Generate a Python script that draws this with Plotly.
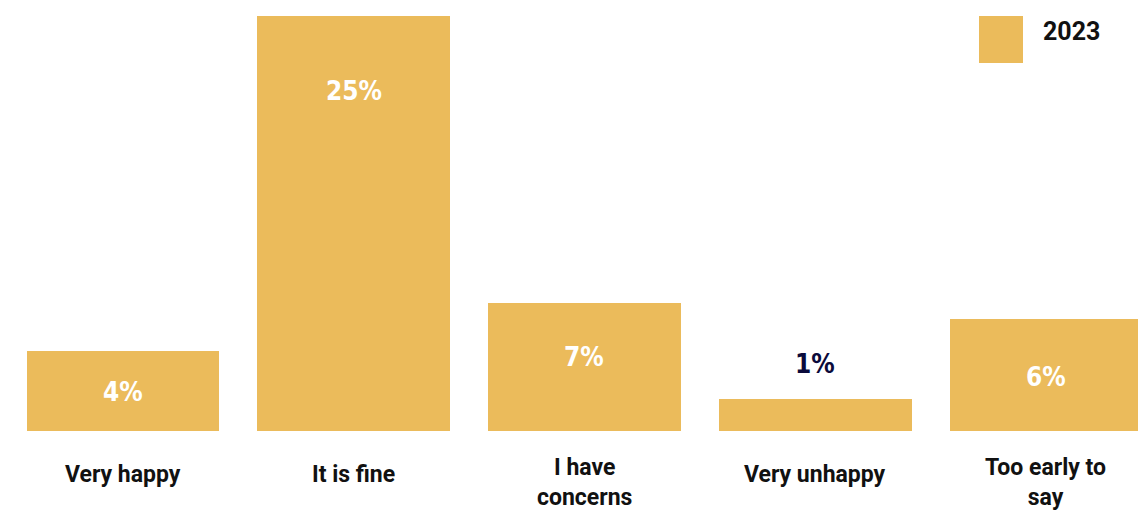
import plotly.graph_objects as go

# Survey responses, share of respondents (%)
categories = ["Very happy", "It is fine", "I have\nconcerns", "Very unhappy", "Too early to\nsay"]
values = [4, 25, 7, 1, 6]
value_labels = ["4%", "25%", "7%", "1%", "6%"]
series_name = "2023"

# vertical placement of each value label (data units)
label_y = [1.45, 20.3, 3.65, 3.2, 2.4]
label_colors = ["white", "white", "white", "#0b0b3b", "white"]

BAR = "#EBBB5B"
BASE = -1
TEXT = "#111111"
PLOT_TOP, PLOT_BOTTOM = 16, 431


def paper_y(px):
    return (PLOT_BOTTOM - px) / (PLOT_BOTTOM - PLOT_TOP)


fig = go.Figure()
fig.add_trace(go.Bar(
    x=list(range(len(categories))),
    y=[v - BASE for v in values],
    base=BASE,
    marker=dict(color=BAR, line=dict(width=0)),
    width=0.835,
    name=series_name,
    showlegend=False,
    hoverinfo="skip",
))

for i, (lab, ly, c) in enumerate(zip(value_labels, label_y, label_colors)):
    fig.add_annotation(
        x=i, y=ly, xref="x", yref="y", text="<b>" + lab + "</b>", showarrow=False,
        font=dict(family="DejaVu Sans Condensed, Liberation Sans Narrow, sans-serif",
                  size=26, color=c),
        xanchor="center", yanchor="middle",
    )

# category names under the bars; wrapped names hang from the same first line
for i, cat in enumerate(categories):
    lines = cat.split("\n")
    center = 474 if len(lines) == 1 else 482
    fig.add_annotation(
        x=i, xref="x", y=paper_y(center), yref="paper",
        text="<br>".join("<b>" + s + "</b>" for s in lines), showarrow=False,
        xanchor="center", yanchor="middle", align="center",
        font=dict(family="Roboto", size=23, color=TEXT),
    )

# legend swatch and label
fig.add_shape(type="rect", xref="paper", yref="paper",
              x0=979 / 1138, x1=1023 / 1138, y0=paper_y(63), y1=paper_y(16),
              fillcolor=BAR, line=dict(width=0))
fig.add_annotation(xref="paper", yref="paper", x=1041 / 1138, y=paper_y(32),
                   text="<b>" + series_name + "</b>", showarrow=False,
                   xanchor="left", yanchor="middle",
                   font=dict(family="Roboto", size=25, color=TEXT))

fig.update_layout(
    width=1138, height=515,
    margin=dict(l=0, r=0, t=PLOT_TOP, b=515 - PLOT_BOTTOM),
    plot_bgcolor="white", paper_bgcolor="white",
    bargap=0,
    xaxis=dict(
        range=[-0.533, 4.399],
        showticklabels=False, ticks="",
        showgrid=False, zeroline=False, showline=False,
        fixedrange=True,
    ),
    yaxis=dict(range=[BASE, 25], visible=False, fixedrange=True),
)

fig.write_html("out.html")
